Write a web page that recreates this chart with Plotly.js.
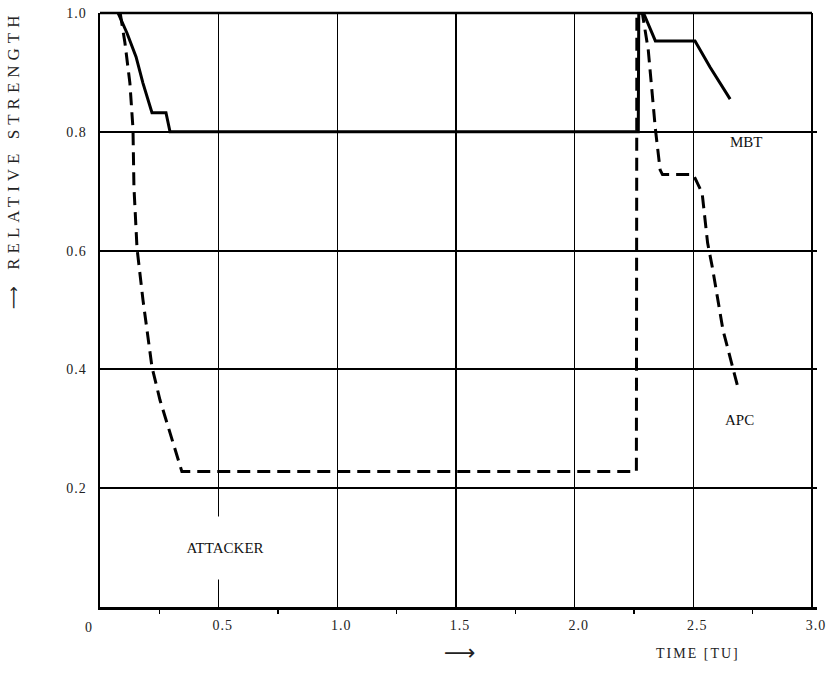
<!DOCTYPE html>
<html>
<head>
<meta charset="utf-8">
<script src="https://cdn.plot.ly/plotly-3.0.1.min.js"></script>
<style>
body{margin:0;background:#fff;}
#chart{width:827px;height:687px;}
.annotation[data-index="0"] text{letter-spacing:5px;}
.annotation[data-index="2"] text{letter-spacing:2px;}
.xtick text, .ytick text{letter-spacing:1px;}
</style>
</head>
<body>
<div id="chart"></div>
<script>
// MBT (solid) series
const mbtTime = [0.076, 0.114, 0.152, 0.181, 0.219, 0.278, 0.295, 2.268, 2.27, 2.29, 2.34, 2.507, 2.57, 2.655];
const mbtStrength = [1.0, 0.966, 0.926, 0.882, 0.832, 0.832, 0.8, 0.8, 1.0, 1.0, 0.953, 0.953, 0.909, 0.855];
// APC (dashed) series
const apcTime = [0.085, 0.105, 0.126, 0.139, 0.143, 0.156, 0.181, 0.219, 0.253, 0.295, 0.345, 2.26, 2.262, 2.285, 2.31, 2.34, 2.36, 2.37, 2.5, 2.537, 2.56, 2.58, 2.625, 2.685];
const apcStrength = [1.0, 0.95, 0.882, 0.805, 0.707, 0.604, 0.517, 0.404, 0.348, 0.293, 0.228, 0.228, 1.0, 1.0, 0.938, 0.805, 0.736, 0.728, 0.728, 0.697, 0.613, 0.572, 0.466, 0.374];
// ticks
const xTickVals = [0.5, 1.0, 1.5, 2.0, 2.5, 3.0];
const xTickText = ["0.5", "1.0", "1.5", "2.0", "2.5", "3.0"];
const yTickVals = [0.2, 0.4, 0.6, 0.8, 1.0];
const yTickText = ["0.2", "0.4", "0.6", "0.8", "1.0"];
// labels
const seriesLabels = ["MBT", "APC", "ATTACKER"];

const serif = "Liberation Serif, DejaVu Serif, serif";

const traces = [
  {x: mbtTime, y: mbtStrength, mode: "lines", line: {color: "#000", width: 3}, name: "MBT", hoverinfo: "skip"},
  {x: apcTime, y: apcStrength, mode: "lines", line: {color: "#000", width: 3, dash: "13px,7px"}, name: "APC", hoverinfo: "skip"}
];

const layout = {
  width: 827, height: 687,
  margin: {l: 100, r: 10, t: 13, b: 80},
  paper_bgcolor: "#fff", plot_bgcolor: "#fff",
  showlegend: false,
  font: {family: serif, color: "#222", size: 13},
  xaxis: {
    range: [0, 3.021], tickmode: "array", tickvals: xTickVals, ticktext: xTickText,
    showgrid: true, gridcolor: "#000", gridwidth: 1.5,
    showline: true, linecolor: "#000", linewidth: 2.5,
    zeroline: false, ticks: "", ticklabelstandoff: 4, ticklabelshift: 4, ticklabeloverflow: "allow",
    minor: {tickmode: "linear", tick0: 0.25, dtick: 0.5, ticks: "outside", ticklen: 4, tickcolor: "#000", tickwidth: 1.2, showgrid: false},
    tickfont: {family: serif, size: 14, color: "#222"}, fixedrange: true
  },
  yaxis: {
    range: [0, 1], tickvals: yTickVals, ticktext: yTickText,
    showgrid: true, gridcolor: "#000", gridwidth: 2,
    showline: true, linecolor: "#000", linewidth: 2.5,
    zeroline: false, ticks: "", ticklabelstandoff: 8,
    tickfont: {family: serif, size: 14, color: "#222"}, fixedrange: true
  },
  shapes: [
    {type: "line", xref: "x", yref: "paper", x0: 0, x1: 3.0, y0: 1, y1: 1, line: {color: "#000", width: 2.5}},
    {type: "line", xref: "x", yref: "paper", x0: 3.0, x1: 3.0, y0: 0, y1: 1, line: {color: "#000", width: 1.2}}
  ],
  annotations: [
    {xref: "paper", yref: "paper", x: -0.121, y: (607 - 140) / 594, xanchor: "center", yanchor: "middle",
     text: "RELATIVE STRENGTH", textangle: -90, showarrow: false, font: {family: serif, size: 17, color: "#222"}},
    {xref: "paper", yref: "paper", x: -0.121, y: (607 - 298) / 594, xanchor: "center", yanchor: "middle",
     text: "⟶", textangle: -90, showarrow: false, font: {family: "DejaVu Sans", size: 16, color: "#222"}},
    {xref: "paper", yref: "paper", x: (698 - 100) / 717, y: (607 - 653) / 594, xanchor: "center", yanchor: "middle",
     text: "TIME [TU]", showarrow: false, font: {family: serif, size: 14, color: "#222"}},
    {xref: "paper", yref: "paper", x: (460 - 100) / 717, y: (607 - 652) / 594, xanchor: "center", yanchor: "middle",
     text: "⟶", showarrow: false, font: {family: "DejaVu Sans", size: 22, color: "#222"}},
    {xref: "paper", yref: "paper", x: (88 - 100) / 717, y: (607 - 628) / 594, xanchor: "center", yanchor: "middle",
     text: "0", showarrow: false, font: {family: serif, size: 14, color: "#222"}},
    {x: 2.722, y: 0.783, text: seriesLabels[0], showarrow: false, font: {family: serif, size: 15, color: "#111"}},
    {x: 2.693, y: 0.315, text: seriesLabels[1], showarrow: false, font: {family: serif, size: 15, color: "#111"}},
    {x: 0.527, y: 0.099, text: seriesLabels[2], showarrow: false, bgcolor: "#fff", height: 60, width: 110,
     font: {family: serif, size: 15, color: "#111"}}
  ]
};

Plotly.newPlot("chart", traces, layout, {displayModeBar: false, staticPlot: true});
</script>
</body>
</html>
